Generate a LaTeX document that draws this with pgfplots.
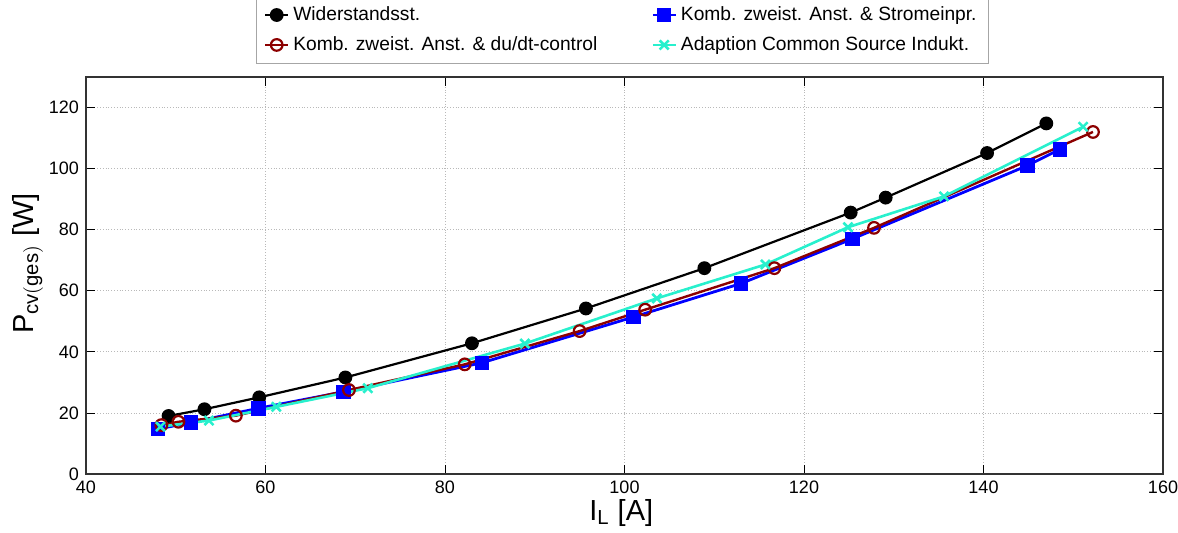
\documentclass[border=0pt]{standalone}
\usepackage{pgfplots}
\pgfplotsset{compat=1.18}
\usepackage{fontspec}
\setmainfont{Liberation Sans}
\definecolor{cdarkred}{RGB}{140,0,0}
\definecolor{cblue}{RGB}{0,0,255}
\definecolor{ccyan}{RGB}{40,240,205}
\begin{document}
\begin{tikzpicture}
\begin{axis}[
  scale only axis,
  width=538.5pt, height=198.5pt,
  xmin=40, xmax=160, ymin=0, ymax=130,
  xtick={40,60,...,160}, ytick={0,20,...,120},
  /pgf/number format/assume math mode=true,
  ticklabel style={font=\fontsize{9}{10}\selectfont},
  tick align=inside,
  major tick length=4.5pt,
  tick style={black, thin},
  axis line style={black!80, line width=0.6pt},
  grid=major,
  major grid style={densely dotted, gray!55, line width=0.4pt},
  xlabel={$\mathrm{I}_{\mathrm{L}}$ [A]},
  ylabel={$\mathrm{P}_{\mathrm{cv(ges)}}$ [W]},
  label style={font=\fontsize{14.5}{16}\selectfont},
  xlabel style={at={(axis description cs:0.497,-0.116)}, anchor=base},
  ylabel style={at={(axis description cs:-0.0492,0.53)}, anchor=base},
  legend columns=2,
  legend cell align=left,
  legend style={at={(axis description cs:0.498,1)}, anchor=south, yshift=6.5pt,
    draw=gray!70, line width=0.6pt, fill=white,
    font=\fontsize{9.6}{11}\selectfont,
    inner xsep=4pt, inner ysep=3pt,
    row sep=2.5pt,
    /tikz/every even column/.append style={column sep=25pt}},
  legend image code/.code={\draw[mark repeat=2,mark phase=2] plot coordinates {(0cm,0cm)(0.2cm,0cm)(0.4cm,0cm)};},
]
\addplot[black, line width=1.1pt, mark=*, mark size=2.9pt] coordinates {
(49.2,19.0)(53.2,21.2)(59.3,25.1)(68.9,31.6)(83.0,42.8)(95.7,54.2)(108.9,67.4)(125.2,85.6)(129.1,90.5)(140.4,105.1)(147.0,114.8)};
\addlegendentry{Widerstandsst.}
\addplot[cblue, line width=1.4pt, mark=square*, mark size=2.9pt] coordinates {
(48.0,14.7)(51.7,16.9)(59.2,21.5)(68.7,26.9)(84.1,36.4)(101.0,51.4)(113.0,62.4)(125.4,77.0)(144.9,101.0)(148.5,106.3)};
\addlegendentry{Komb. zweist. Anst. \& Stromeinpr.}
\addplot[cdarkred, line width=1.2pt, mark=o, mark size=2.9pt, mark options={line width=1.1pt}] coordinates {
(48.4,16.0)(50.3,17.1)(56.7,19.1)(69.3,27.5)(82.2,35.9)(95.0,46.8)(102.3,53.8)(116.7,67.4)(127.8,80.6)(152.2,112.0)};
\addlegendentry{Komb. zweist. Anst. \& du/dt-control}
\addplot[ccyan, line width=1.3pt, mark=x, mark size=3.2pt, mark options={line width=1.3pt}] coordinates {
(48.3,15.5)(53.7,17.5)(61.2,22.0)(71.4,28.1)(88.9,42.7)(103.6,57.5)(115.7,68.6)(124.9,80.8)(135.6,90.9)(151.1,113.7)};
\addlegendentry{Adaption Common Source Indukt.}
\end{axis}
\pgfresetboundingbox
\path (current axis.south west) ++(-43pt,-29.5pt) rectangle ++(589pt,266.5pt);
\end{tikzpicture}
\end{document}
